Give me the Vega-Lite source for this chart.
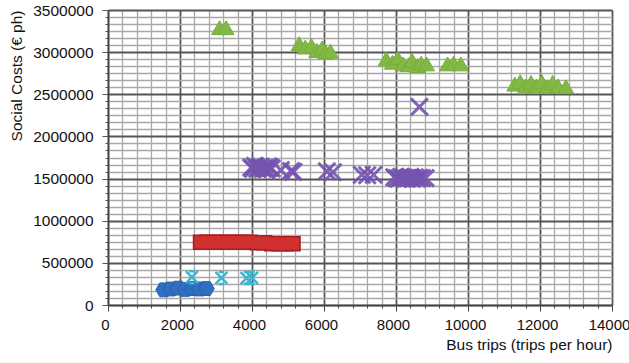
{
  "$schema": "https://vega.github.io/schema/vega-lite/v6.json",
  "width": 504,
  "height": 295,
  "autosize": {"type": "none"},
  "padding": {"left": 108, "right": 17, "top": 10, "bottom": 58},
  "background": "white",
  "config": {
    "view": {"stroke": null},
    "font": "Liberation Sans",
    "axis": {"labelFont": "Liberation Sans", "titleFont": "Liberation Sans", "labelColor": "#111", "titleColor": "#111", "titleFontWeight": "normal"}
  },
  "data": {
    "values": [
      {"s": "blue", "x": 1550, "y": 180000},
      {"s": "blue", "x": 1750, "y": 190000},
      {"s": "blue", "x": 1950, "y": 200000},
      {"s": "blue", "x": 2150, "y": 185000},
      {"s": "blue", "x": 2350, "y": 195000},
      {"s": "blue", "x": 2550, "y": 190000},
      {"s": "blue", "x": 2730, "y": 195000},
      {"s": "cyan", "x": 2330, "y": 330000},
      {"s": "cyan", "x": 3150, "y": 321000},
      {"s": "cyan", "x": 3850, "y": 320000},
      {"s": "cyan", "x": 4000, "y": 322000},
      {"s": "red", "x": 2570, "y": 745000},
      {"s": "red", "x": 2750, "y": 745000},
      {"s": "red", "x": 2950, "y": 745000},
      {"s": "red", "x": 3150, "y": 745000},
      {"s": "red", "x": 3350, "y": 745000},
      {"s": "red", "x": 3550, "y": 745000},
      {"s": "red", "x": 3750, "y": 745000},
      {"s": "red", "x": 3950, "y": 745000},
      {"s": "red", "x": 4150, "y": 740000},
      {"s": "red", "x": 4350, "y": 740000},
      {"s": "red", "x": 4550, "y": 728000},
      {"s": "red", "x": 4750, "y": 728000},
      {"s": "red", "x": 4950, "y": 728000},
      {"s": "red", "x": 5140, "y": 728000},
      {"s": "purple", "x": 3980, "y": 1630000},
      {"s": "purple", "x": 4030, "y": 1615000},
      {"s": "purple", "x": 4080, "y": 1650000},
      {"s": "purple", "x": 4150, "y": 1615000},
      {"s": "purple", "x": 4200, "y": 1635000},
      {"s": "purple", "x": 4250, "y": 1640000},
      {"s": "purple", "x": 4300, "y": 1615000},
      {"s": "purple", "x": 4350, "y": 1625000},
      {"s": "purple", "x": 4400, "y": 1610000},
      {"s": "purple", "x": 4450, "y": 1645000},
      {"s": "purple", "x": 4500, "y": 1630000},
      {"s": "purple", "x": 4550, "y": 1620000},
      {"s": "purple", "x": 4800, "y": 1600000},
      {"s": "purple", "x": 5080, "y": 1590000},
      {"s": "purple", "x": 5150, "y": 1580000},
      {"s": "purple", "x": 6080, "y": 1585000},
      {"s": "purple", "x": 6250, "y": 1575000},
      {"s": "purple", "x": 7050, "y": 1545000},
      {"s": "purple", "x": 7200, "y": 1540000},
      {"s": "purple", "x": 7380, "y": 1545000},
      {"s": "purple", "x": 7950, "y": 1515000},
      {"s": "purple", "x": 8020, "y": 1505000},
      {"s": "purple", "x": 8080, "y": 1500000},
      {"s": "purple", "x": 8140, "y": 1520000},
      {"s": "purple", "x": 8200, "y": 1510000},
      {"s": "purple", "x": 8270, "y": 1500000},
      {"s": "purple", "x": 8330, "y": 1505000},
      {"s": "purple", "x": 8400, "y": 1520000},
      {"s": "purple", "x": 8450, "y": 1500000},
      {"s": "purple", "x": 8520, "y": 1515000},
      {"s": "purple", "x": 8580, "y": 1500000},
      {"s": "purple", "x": 8650, "y": 1510000},
      {"s": "purple", "x": 8720, "y": 1505000},
      {"s": "purple", "x": 8820, "y": 1505000},
      {"s": "purple", "x": 8650, "y": 2350000},
      {"s": "green", "x": 3100, "y": 3290000},
      {"s": "green", "x": 3280, "y": 3290000},
      {"s": "green", "x": 5310, "y": 3100000},
      {"s": "green", "x": 5480, "y": 3060000},
      {"s": "green", "x": 5650, "y": 3080000},
      {"s": "green", "x": 5800, "y": 3020000},
      {"s": "green", "x": 5950, "y": 3050000},
      {"s": "green", "x": 6050, "y": 3000000},
      {"s": "green", "x": 6180, "y": 3010000},
      {"s": "green", "x": 7730, "y": 2920000},
      {"s": "green", "x": 7900, "y": 2880000},
      {"s": "green", "x": 8050, "y": 2930000},
      {"s": "green", "x": 8200, "y": 2860000},
      {"s": "green", "x": 8350, "y": 2850000},
      {"s": "green", "x": 8450, "y": 2900000},
      {"s": "green", "x": 8600, "y": 2840000},
      {"s": "green", "x": 8700, "y": 2870000},
      {"s": "green", "x": 8850, "y": 2860000},
      {"s": "green", "x": 9430, "y": 2860000},
      {"s": "green", "x": 9600, "y": 2870000},
      {"s": "green", "x": 9800, "y": 2860000},
      {"s": "green", "x": 11300, "y": 2620000},
      {"s": "green", "x": 11450, "y": 2650000},
      {"s": "green", "x": 11600, "y": 2600000},
      {"s": "green", "x": 11750, "y": 2640000},
      {"s": "green", "x": 11900, "y": 2600000},
      {"s": "green", "x": 12050, "y": 2650000},
      {"s": "green", "x": 12200, "y": 2590000},
      {"s": "green", "x": 12350, "y": 2640000},
      {"s": "green", "x": 12500, "y": 2600000},
      {"s": "green", "x": 12720, "y": 2590000}
    ]
  },
  "encoding": {
    "x": {
      "field": "x", "type": "quantitative",
      "scale": {"domain": [0, 14000], "nice": false, "zero": false},
      "axis": {
        "title": "Bus trips (trips per hour)",
        "titleAnchor": "end", "titleFontSize": 15.5, "titlePadding": 5,
        "values": [0,400,800,1200,1600,2000,2400,2800,3200,3600,4000,4400,4800,5200,5600,6000,6400,6800,7200,7600,8000,8400,8800,9200,9600,10000,10400,10800,11200,11600,12000,12400,12800,13200,13600,14000],
        "format": "d",
        "labelExpr": "datum.value % 2000 == 0 ? datum.label : ''",
        "labelFontSize": 15, "labelPadding": 6, "labelFlush": false, "labelOffset": -3,
        "domainColor": "#444", "domainWidth": 1.5,
        "tickColor": "#444",
        "tickSize": {"condition": {"test": "datum.value % 2000 == 0", "value": 6}, "value": 3},
        "grid": true,
        "gridColor": {"condition": {"test": "datum.value % 2000 == 0", "value": "#555"}, "value": "#a8a8a8"},
        "gridWidth": {"condition": {"test": "datum.value % 2000 == 0", "value": 1.8}, "value": 1.3},
        "gridOpacity": 1
      }
    },
    "y": {
      "field": "y", "type": "quantitative",
      "scale": {"domain": [0, 3500000], "nice": false, "zero": false},
      "axis": {
        "title": "Social Costs (€ ph)",
        "titleAnchor": "end", "titleFontSize": 15.5, "titlePadding": 8,
        "values": [0,83333.33,166666.67,250000,333333.33,416666.67,500000,583333.33,666666.67,750000,833333.33,916666.67,1000000,1083333.33,1166666.67,1250000,1333333.33,1416666.67,1500000,1583333.33,1666666.67,1750000,1833333.33,1916666.67,2000000,2083333.33,2166666.67,2250000,2333333.33,2416666.67,2500000,2583333.33,2666666.67,2750000,2833333.33,2916666.67,3000000,3083333.33,3166666.67,3250000,3333333.33,3416666.67,3500000],
        "format": "d",
        "labelExpr": "datum.value % 500000 == 0 ? datum.label : ''",
        "labelFontSize": 15.5, "labelPadding": 9, "labelFlush": false,
        "domainColor": "#444", "domainWidth": 1.5,
        "tickColor": "#555",
        "tickSize": {"condition": {"test": "datum.value % 500000 == 0", "value": 6}, "value": 3},
        "grid": true,
        "gridColor": {"condition": {"test": "datum.value % 500000 == 0", "value": "#555"}, "value": "#a8a8a8"},
        "gridWidth": {"condition": {"test": "datum.value % 500000 == 0", "value": 1.8}, "value": 1.3},
        "gridOpacity": 1
      }
    }
  },
  "layer": [
    {
      "transform": [{"filter": "datum.s == 'blue'"}],
      "mark": {"type": "point", "shape": "M-1,0L-0.5,-0.866L0.5,-0.866L1,0L0.5,0.866L-0.5,0.866Z", "filled": true, "color": "#2f6fc0", "stroke": "#2a62aa", "strokeWidth": 1, "size": 256, "opacity": 1}
    },
    {
      "transform": [{"filter": "datum.s == 'cyan'"}],
      "mark": {"type": "point", "shape": "M-1,-1L1,1M-1,1L1,-1M-0.45,-1L0.45,-1M-0.45,1L0.45,1", "filled": false, "stroke": "#3db5cf", "strokeWidth": 2.5, "size": 144, "opacity": 1}
    },
    {
      "transform": [{"filter": "datum.s == 'red'"}],
      "mark": {"type": "point", "shape": "square", "filled": true, "color": "#a81e22", "stroke": "#a81e22", "strokeWidth": 2.5, "size": 169, "opacity": 1}
    },
    {
      "transform": [{"filter": "datum.s == 'red'"}],
      "mark": {"type": "point", "shape": "square", "filled": true, "color": "#d0302e", "strokeWidth": 0, "size": 150, "opacity": 1}
    },
    {
      "transform": [{"filter": "datum.s == 'purple'"}],
      "mark": {"type": "point", "shape": "M-1,-1L1,1M-1,1L1,-1", "filled": false, "stroke": "#7553b0", "strokeWidth": 3, "size": 289, "opacity": 0.9}
    },
    {
      "transform": [{"filter": "datum.s == 'green'"}],
      "mark": {"type": "point", "shape": "triangle-up", "filled": true, "color": "#82b844", "stroke": "#78ad3c", "strokeWidth": 1, "size": 256, "opacity": 1}
    }
  ]
}
